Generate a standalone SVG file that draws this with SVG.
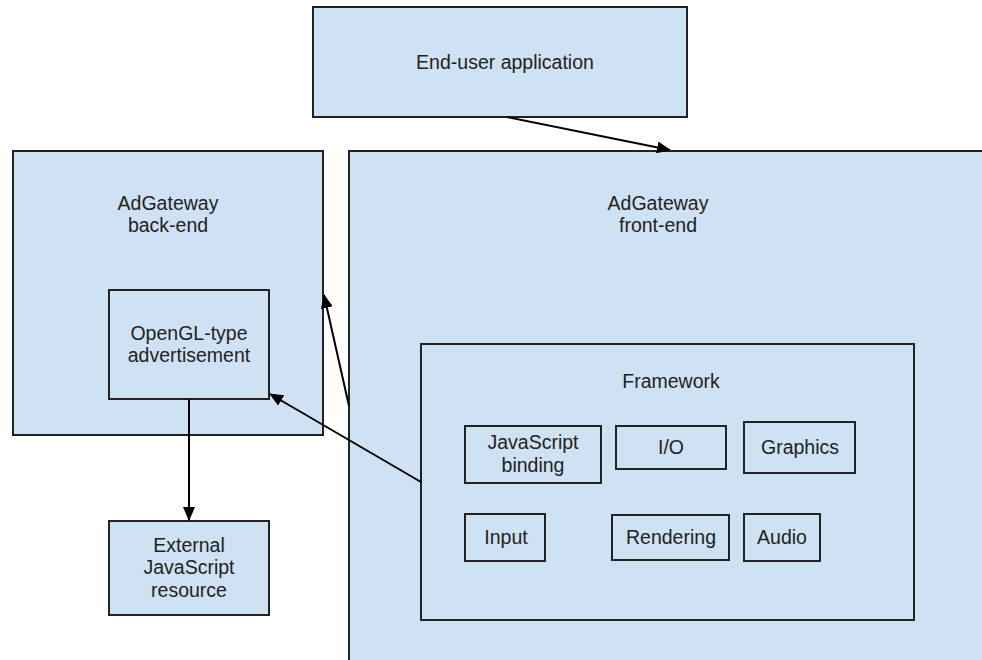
<svg xmlns="http://www.w3.org/2000/svg" width="982" height="660" viewBox="0 0 982 660">
<style>
.box{fill:#cfe2f3;stroke:#222;stroke-width:2}
.t{font-family:"Liberation Sans",Arial,sans-serif;font-size:19.5px;fill:#222;text-anchor:middle}
.c{fill:none;stroke:#000;stroke-width:2}
</style>
<defs>
<marker id="ah" markerUnits="userSpaceOnUse" markerWidth="14" markerHeight="12" viewBox="0 0 14 12" refX="13" refY="6" orient="auto">
<path d="M0,0 L14,6 L0,12 Z" fill="#000"/>
</marker>
</defs>
<rect width="982" height="660" fill="#fff"/>
<g id="end-user">
<rect class="box" x="313" y="7" width="374" height="110"/>
<text class="t" x="505" y="69">End-user application</text>
</g>
<g id="backend">
<rect class="box" x="13" y="151" width="310" height="284"/>
<text class="t" x="168" y="210">AdGateway</text>
<text class="t" x="168" y="232">back-end</text>
</g>
<g id="opengl">
<rect class="box" x="109" y="290" width="160" height="109"/>
<text class="t" x="189" y="340">OpenGL-type</text>
<text class="t" x="189" y="362">advertisement</text>
</g>
<g id="frontend">
<rect class="box" x="349" y="151" width="650" height="530"/>
<text class="t" x="658" y="210">AdGateway</text>
<text class="t" x="658" y="232">front-end</text>
</g>
<g id="framework">
<rect class="box" x="421" y="344" width="493" height="276"/>
<text class="t" x="671" y="388">Framework</text>
</g>
<g id="jsbinding">
<rect class="box" x="465" y="426" width="136" height="57"/>
<text class="t" x="533" y="449">JavaScript</text>
<text class="t" x="533" y="472">binding</text>
</g>
<g id="io">
<rect class="box" x="616" y="426" width="110" height="43"/>
<text class="t" x="671" y="454">I/O</text>
</g>
<g id="graphics">
<rect class="box" x="744" y="422" width="111" height="51"/>
<text class="t" x="800" y="454">Graphics</text>
</g>
<g id="input">
<rect class="box" x="465" y="514" width="80" height="47"/>
<text class="t" x="506" y="544">Input</text>
</g>
<g id="rendering">
<rect class="box" x="612" y="515" width="117" height="45"/>
<text class="t" x="671" y="544">Rendering</text>
</g>
<g id="audio">
<rect class="box" x="744" y="514" width="76" height="47"/>
<text class="t" x="782" y="544">Audio</text>
</g>
<g id="external">
<rect class="box" x="109" y="521" width="160" height="94"/>
<text class="t" x="189" y="552">External</text>
<text class="t" x="189" y="574">JavaScript</text>
<text class="t" x="189" y="597">resource</text>
</g>
<g id="connectors">
<line class="c" x1="507" y1="117" x2="670" y2="150" marker-end="url(#ah)"/>
<line class="c" x1="349" y1="406" x2="324" y2="295" marker-end="url(#ah)"/>
<line class="c" x1="421" y1="482" x2="270" y2="394" marker-end="url(#ah)"/>
<line class="c" x1="189" y1="399" x2="189" y2="520" marker-end="url(#ah)"/>
</g>
</svg>
